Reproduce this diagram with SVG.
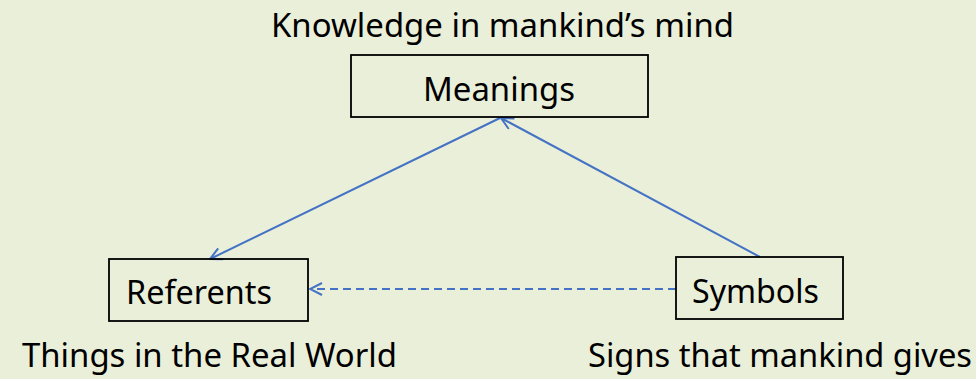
<svg xmlns="http://www.w3.org/2000/svg" width="976" height="379" viewBox="0 0 976 379">
<defs>
<style>
.t{font-family:"Noto Sans","Open Sans","Liberation Sans",sans-serif;font-size:32px;fill:#000}
.box{fill:none;stroke:#000;stroke-width:1.8}
.c{fill:none;stroke:#4472C4;stroke-width:2}
</style>
<marker id="ah" viewBox="0 0 14 14" refX="13" refY="7" markerWidth="14" markerHeight="14" markerUnits="userSpaceOnUse" orient="auto">
<path d="M1,1 L13,7 L1,13" fill="none" stroke="#4472C4" stroke-width="2"/>
</marker>
</defs>
<rect width="976" height="379" fill="#EAEFD9"/>
<text class="t" x="271" y="37" textLength="463" lengthAdjust="spacingAndGlyphs">Knowledge in mankind’s mind</text>
<g id="connectors">
<line class="c" x1="500" y1="118" x2="210" y2="259" marker-end="url(#ah)"/>
<line class="c" x1="760" y1="257" x2="501" y2="118" marker-end="url(#ah)"/>
<line class="c" x1="676" y1="289" x2="310" y2="289" stroke-dasharray="8,5" marker-end="url(#ah)"/>
</g>
<g id="meanings">
<rect class="box" x="351" y="55" width="297" height="62"/>
<text class="t" x="423" y="101" textLength="152" lengthAdjust="spacingAndGlyphs">Meanings</text>
</g>
<g id="referents">
<rect class="box" x="109" y="259" width="199" height="62"/>
<text class="t" x="126" y="304" textLength="146" lengthAdjust="spacingAndGlyphs">Referents</text>
<text class="t" x="22" y="367" textLength="375" lengthAdjust="spacingAndGlyphs">Things in the Real World</text>
</g>
<g id="symbols">
<rect class="box" x="676" y="257" width="167" height="62"/>
<text class="t" x="692" y="303" textLength="127" lengthAdjust="spacingAndGlyphs">Symbols</text>
<text class="t" x="588" y="367" textLength="384" lengthAdjust="spacingAndGlyphs">Signs that mankind gives</text>
</g>
</svg>
